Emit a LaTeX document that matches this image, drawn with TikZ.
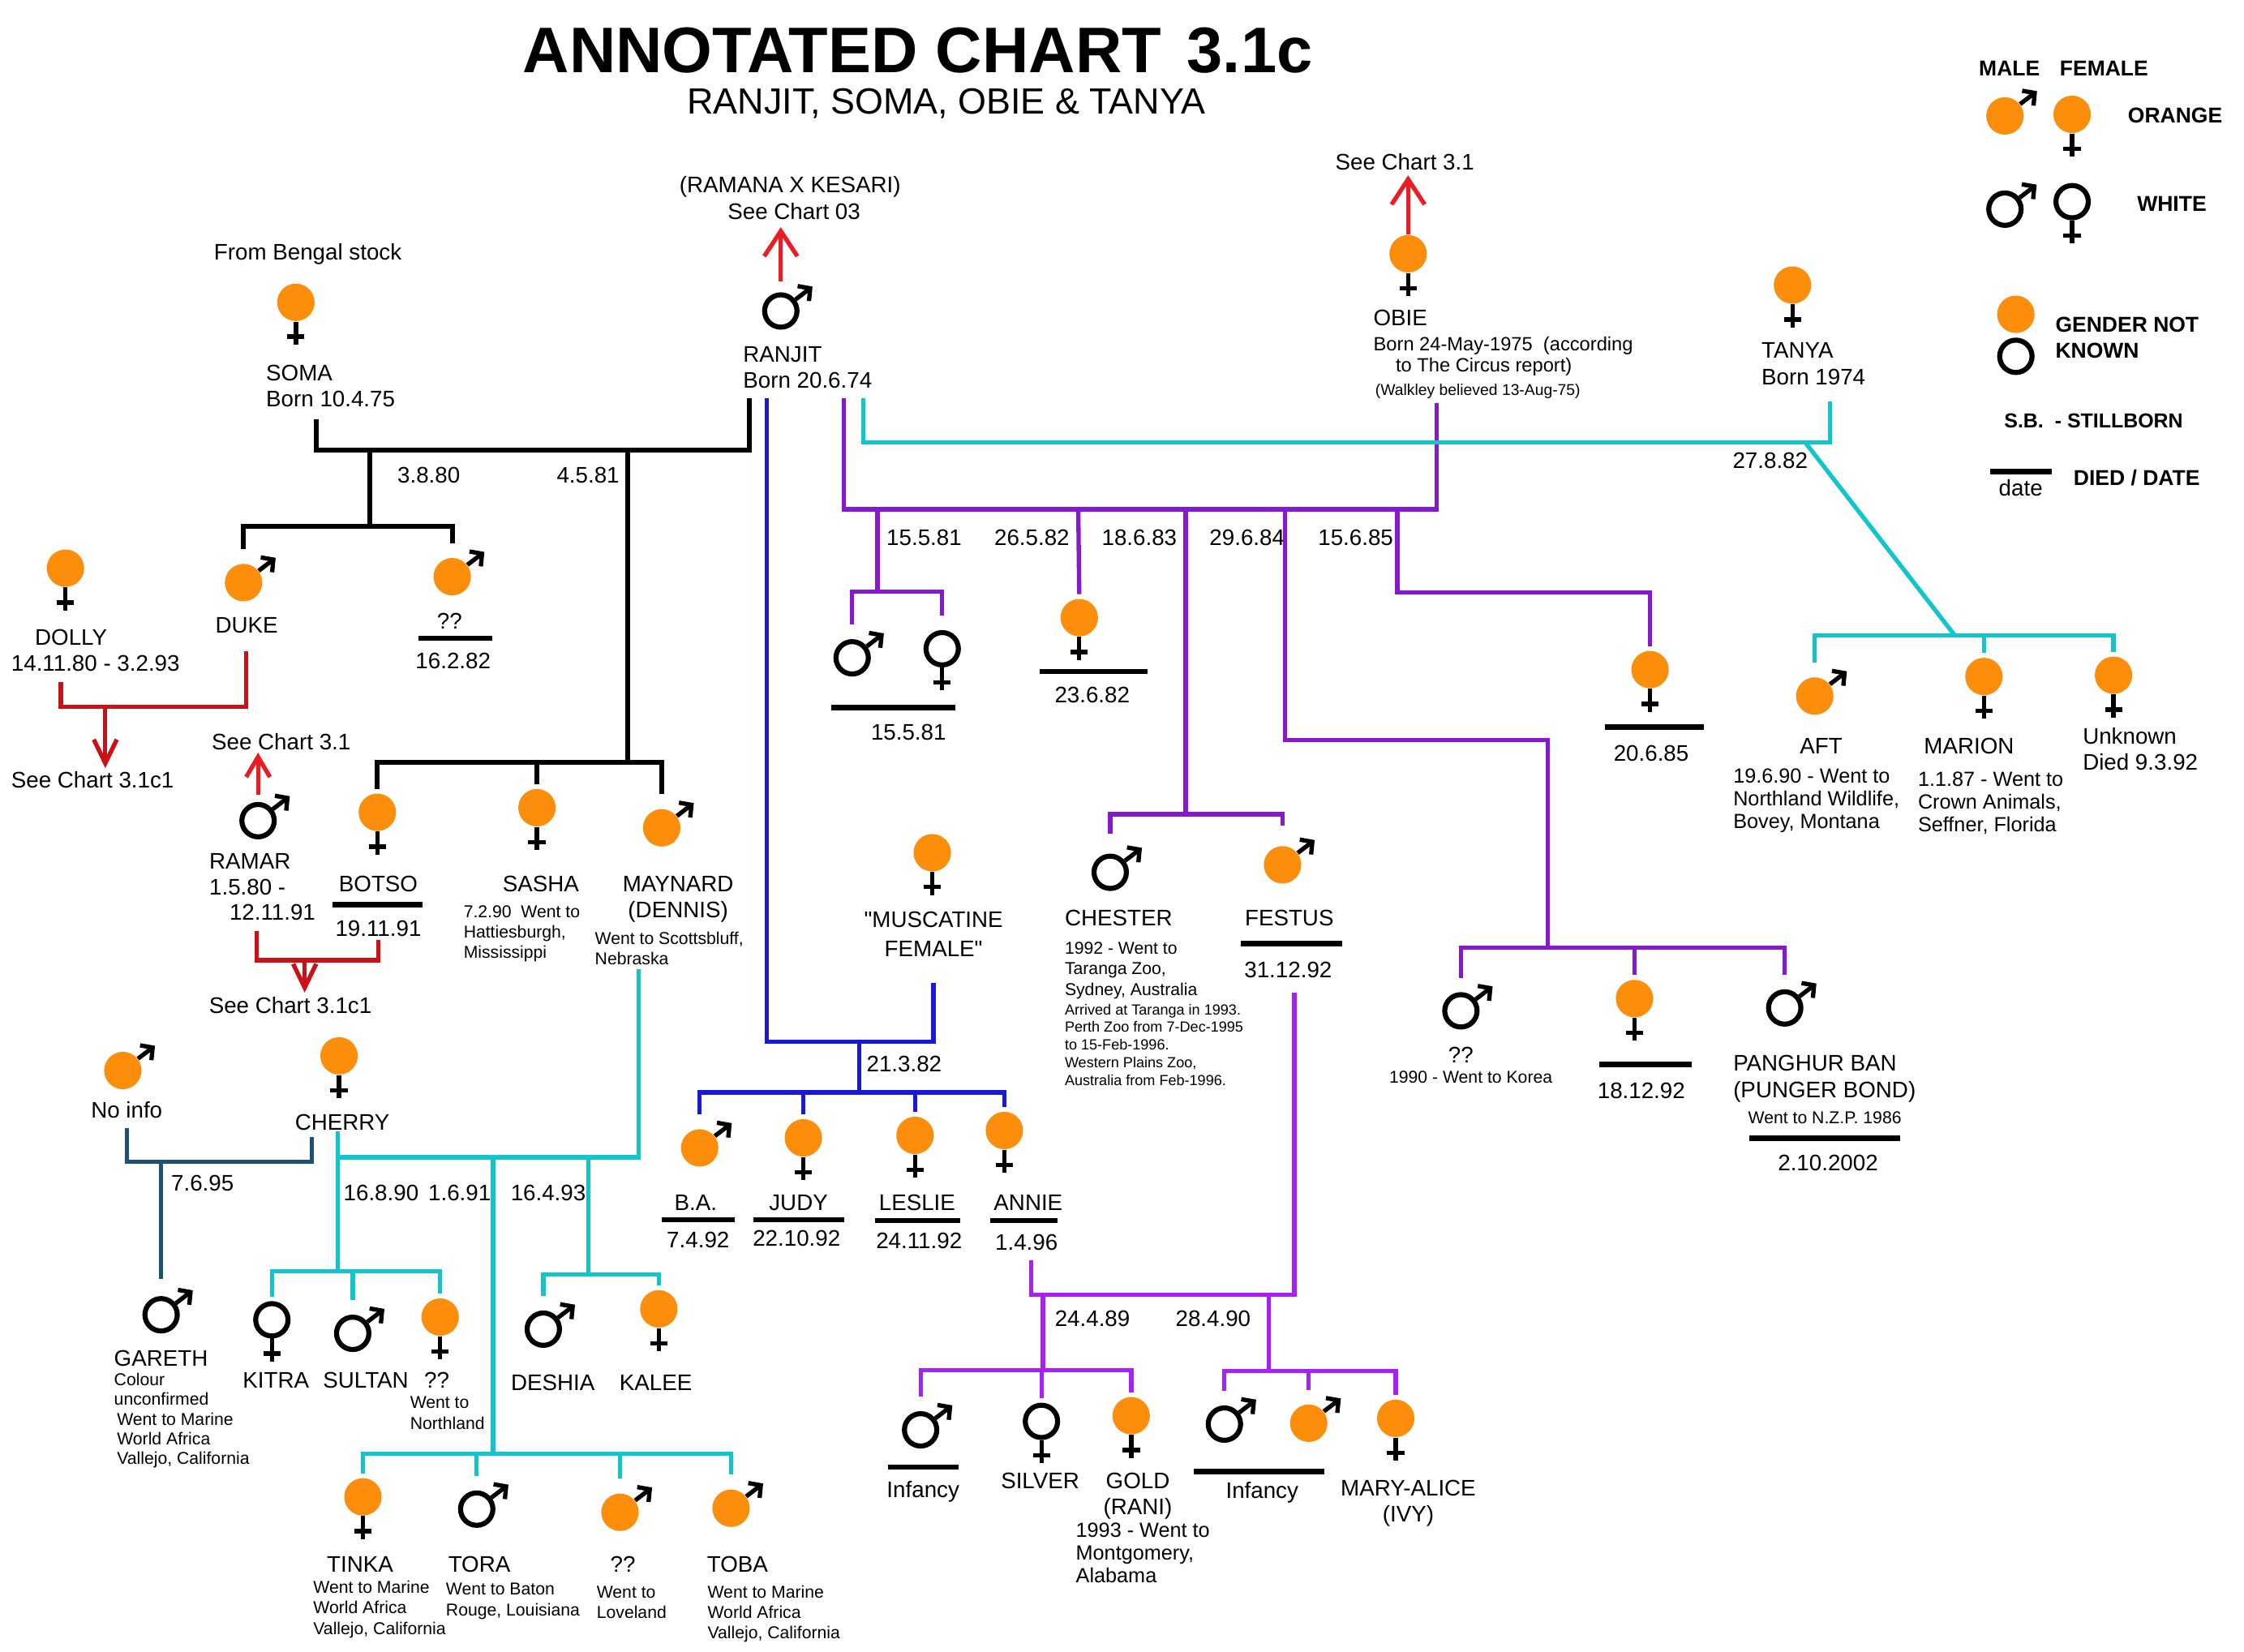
\documentclass[tikz,border=0pt]{standalone}
\usepackage{fontspec}
\setmainfont{Liberation Sans}[Ligatures=TeXOff]
\usepackage{tikz}
\usetikzlibrary{arrows.meta,calc}
\usepackage{xcolor}
\definecolor{dforange}{RGB}{252,142,12}
\definecolor{dfred}{RGB}{236,28,36}
\definecolor{dfdarkred}{RGB}{204,16,22}
\definecolor{dfblue}{RGB}{24,24,214}
\definecolor{dfpurple}{RGB}{136,24,206}
\definecolor{dfviolet}{RGB}{168,32,246}
\definecolor{dfcyan}{RGB}{16,198,204}
\definecolor{dfteal}{RGB}{28,82,112}
% text
\tikzstyle{txt} = [inner sep=0pt, font=\fontsize{8.9}{10.4}\selectfont]
\tikzstyle{smallnote} = [inner sep=0pt, align=left, font=\fontsize{6.8}{8.1}\selectfont]
\tikzstyle{midnote} = [inner sep=0pt, align=left, font=\fontsize{8.1}{9}\selectfont]
\tikzstyle{tinynote} = [inner sep=0pt, align=left, font=\fontsize{5.8}{7}\selectfont]
\tikzstyle{keytxt} = [inner sep=0pt, font=\bfseries\fontsize{8.5}{10.35}\selectfont]
% symbols
\tikzstyle{ocirc} = [circle, fill=dforange, minimum size=5.2mm, inner sep=0pt]
\tikzstyle{wcirc} = [circle, draw=black, line width=0.7mm, fill=white, minimum size=4.5mm, inner sep=0pt]
\tikzstyle{symline} = [line width=0.6mm, black]
\tikzstyle{marrow} = [symline, -{Straight Barb[length=1.2mm,width=2.6mm]}]
\tikzstyle{deathbar} = [line width=0.75mm, black]
% lines
\tikzstyle{blackline} = [line width=0.7mm, black]
\tikzstyle{blueline} = [line width=0.6mm, dfblue]
\tikzstyle{purpleline} = [line width=0.6mm, dfpurple]
\tikzstyle{violetline} = [line width=0.6mm, dfviolet]
\tikzstyle{cyanline} = [line width=0.6mm, dfcyan]
\tikzstyle{tealline} = [line width=0.6mm, dfteal]
\tikzstyle{redline} = [line width=0.6mm, dfdarkred]
\tikzstyle{redup} = [line width=0.6mm, dfred, -{Straight Barb[length=3.5mm,width=4.6mm]}]
\tikzstyle{reddown} = [line width=0.6mm, dfdarkred, -{Straight Barb[length=3.3mm,width=3.2mm]}]
\tikzstyle{tofem} = [shorten >=0.6mm]
\tikzstyle{tomale} = [shorten >=2mm]

\begin{document}
\begin{tikzpicture}[x=0.2mm,y=-0.2mm]
\useasboundingbox (0,0) rectangle (1560,1148.4);
% Title
\node[anchor=base, inner sep=0pt, font=\bfseries\fontsize{25.5}{30}\selectfont] (title) at (638,50.4) {ANNOTATED CHART\hspace{0.4em}3.1c};
\node[anchor=base, inner sep=0pt, font=\fontsize{14.4}{17}\selectfont] (subtitle) at (658,79) {RANJIT, SOMA, OBIE \& TANYA};

% Legend
\node[keytxt, anchor=base west] (keymale) at (1375.4,52.8) {MALE};
\node[keytxt, anchor=base west] (keyfemale) at (1431.6,52.8) {FEMALE};
\node[ocirc] (keyom) at (1393.8,80.6) {};
\node[ocirc] (keyof) at (1440.5,79.5) {};
\node[keytxt, anchor=base west] (keyorange) at (1479,85.3) {ORANGE};
\node[wcirc] (keywm) at (1393.8,145.4) {};
\node[wcirc] (keywf) at (1440.5,140.2) {};
\node[keytxt, anchor=base west] (keywhite) at (1485.4,146.8) {WHITE};
\node[ocirc] (keyo) at (1401.4,218.5) {};
\node[wcirc] (keyw) at (1401.4,247.7) {};
\node[keytxt, anchor=north west, align=left] (keyunk) at (1428.6,220.1) {GENDER NOT\\KNOWN};
\node[keytxt, anchor=base west, font=\bfseries\fontsize{8}{10}\selectfont] (keysb) at (1393,297.5) {S.B.\ \ - STILLBORN};
\draw[deathbar] (1383.8,327.8) -- (1426.6,327.8);
\node[txt, anchor=base] (keydate) at (1404.8,344.5) {date};
\node[keytxt, anchor=base west] (keydied) at (1441.2,337.2) {DIED / DATE};

% Parents
\node[txt, anchor=base] (bengal) at (214,180.6) {From Bengal stock};
\node[ocirc] (soma) at (205.7,210.2) {};
\node[txt, anchor=north west, align=left] (somatxt) at (184.7,253.4) {SOMA\\Born 10.4.75};
\node[txt, anchor=base] (ramana) at (549.3,134.1) {(RAMANA X KESARI)};
\node[txt, anchor=base] (see03) at (552,152.4) {See Chart 03};
\node[wcirc] (ranjit) at (542.8,216.2) {};
\node[txt, anchor=north west, align=left] (ranjittxt) at (516.3,240.5) {RANJIT\\Born 20.6.74};
\node[txt, anchor=base west] (see31a) at (928,117.9) {See Chart 3.1};
\node[ocirc] (obie) at (978.9,176.4) {};
\node[txt, anchor=base west] (obietxt) at (954.5,226.5) {OBIE};
\node[smallnote, font=\fontsize{7.6}{8.6}\selectfont, anchor=north west] (obienote) at (954.5,233.6) {Born 24-May-1975\ \ (according\\\hspace{3.1mm}to The Circus report)};
\node[tinynote, font=\fontsize{6.2}{7.4}\selectfont, anchor=base west] (walkley) at (955.8,275) {(Walkley believed 13-Aug-75)};
\node[ocirc] (tanya) at (1246.1,198.2) {};
\node[txt, anchor=north west, align=left] (tanyatxt) at (1224.3,237.9) {TANYA\\Born 1974};

% Soma x Ranjit
\node[txt, anchor=base west] (d3880) at (276,335.7) {3.8.80};
\node[txt, anchor=base west] (d4581) at (386.7,335.7) {4.5.81};
\node[ocirc] (dolly) at (45.5,395) {};
\node[txt, anchor=base] (dollytxt) at (49.4,448.7) {DOLLY};
\node[txt, anchor=base] (dollydate) at (66.4,466.7) {14.11.80 - 3.2.93};
\node[ocirc] (duke) at (169.3,405) {};
\node[txt, anchor=base] (duketxt) at (171.5,439.8) {DUKE};
\node[ocirc] (qqa) at (314.4,400.9) {};
\node[txt, anchor=base] (qqatxt) at (312.5,437.3) {??};
\draw[deathbar] (290.7,443.7) -- (342,443.7);
\node[txt, anchor=base] (qqadate) at (315,465) {16.2.82};
\node[txt, anchor=base west] (see31c1a) at (7.5,547.7) {See Chart 3.1c1};
\node[txt, anchor=base west] (see31b) at (146.9,521.2) {See Chart 3.1};
\node[wcirc] (ramar) at (179.4,570.5) {};
\node[txt, anchor=north west, align=left, font=\fontsize{8.9}{10.2}\selectfont] (ramartxt) at (145.2,592.9) {RAMAR\\1.5.80 -\\\hspace{2.8mm}12.11.91};
\node[ocirc] (botso) at (262.3,564.7) {};
\node[txt, anchor=base] (botsotxt) at (263,620) {BOTSO};
\draw[deathbar] (231,628.8) -- (293.7,628.8);
\node[txt, anchor=base] (botsodate) at (263,650.7) {19.11.91};
\node[txt, anchor=base west] (see31c1b) at (145,704.7) {See Chart 3.1c1};
\node[ocirc] (sasha) at (373.3,561.5) {};
\node[txt, anchor=base] (sashatxt) at (376,620) {SASHA};
\node[smallnote, anchor=north west] (sashanote) at (322,629) {7.2.90\ \ Went to\\Hattiesburgh,\\Mississippi};
\node[ocirc] (maynard) at (460,575.5) {};
\node[txt, anchor=north, align=center] (maynardtxt) at (471.4,608.7) {MAYNARD\\(DENNIS)};
\node[smallnote, anchor=north west] (maynardnote) at (413.3,647.5) {Went to Scottsbluff,\\Nebraska};

% Maynard x Cherry, No info x Cherry
\node[ocirc] (noinfo) at (85.4,744.2) {};
\node[txt, anchor=base] (noinfotxt) at (88.1,777) {No info};
\node[ocirc] (cherry) at (235.7,734) {};
\node[txt, anchor=base] (cherrytxt) at (238,785.5) {CHERRY};
\node[txt, anchor=base west] (d7695) at (118.7,827.9) {7.6.95};
\node[txt, anchor=base west] (d16890) at (238.5,834.9) {16.8.90};
\node[txt, anchor=base west] (d1691) at (297.4,834.9) {1.6.91};
\node[txt, anchor=base west] (d16493) at (354.7,834.9) {16.4.93};
\node[wcirc] (gareth) at (112,914) {};
\node[txt, anchor=base west] (garethtxt) at (79,949.6) {GARETH};
\node[smallnote, font=\fontsize{6.8}{7.8}\selectfont, anchor=north west] (garethnote) at (79,954.2) {Colour\\unconfirmed\\\hspace{0.4mm}Went to Marine\\\hspace{0.4mm}World Africa\\\hspace{0.4mm}Vallejo, California};
\node[wcirc] (kitra) at (189,917.5) {};
\node[txt, anchor=base] (kitratxt) at (191.8,965.1) {KITRA};
\node[wcirc] (sultan) at (245.2,926.9) {};
\node[txt, anchor=base] (sultantxt) at (254.3,965.1) {SULTAN};
\node[ocirc] (qqn) at (306,915.6) {};
\node[txt, anchor=base west] (qqntxt) at (294.6,965.1) {??};
\node[smallnote, anchor=north west] (qqnnote) at (284.8,970.7) {Went to\\Northland};
\node[ocirc] (tinka) at (252.3,1040.6) {};
\node[txt, anchor=base] (tinkatxt) at (250.3,1093) {TINKA};
\node[smallnote, anchor=north west] (tinkanote) at (217.5,1098.6) {Went to Marine\\World Africa\\Vallejo, California};
\node[wcirc] (tora) at (331.4,1049.1) {};
\node[txt, anchor=base west] (toratxt) at (311.3,1093) {TORA};
\node[smallnote, anchor=north west] (toranote) at (309.7,1100.3) {Went to Baton\\Rouge, Louisiana};
\node[ocirc] (qql) at (431,1051.3) {};
\node[txt, anchor=base] (qqltxt) at (433,1093) {??};
\node[smallnote, anchor=north west] (qqlnote) at (414.5,1102.2) {Went to\\Loveland};
\node[ocirc] (toba) at (508.2,1048.5) {};
\node[txt, anchor=base west] (tobatxt) at (491.2,1093) {TOBA};
\node[smallnote, anchor=north west] (tobanote) at (491.6,1101.7) {Went to Marine\\World Africa\\Vallejo, California};
\node[wcirc] (deshia) at (377.7,924) {};
\node[txt, anchor=base] (deshiatxt) at (384.4,966.4) {DESHIA};
\node[ocirc] (kalee) at (458,909.9) {};
\node[txt, anchor=base] (kaleetxt) at (455.9,966.4) {KALEE};

% Ranjit x Muscatine
\node[ocirc] (muscat) at (648.1,592.8) {};
\node[txt, anchor=north, align=center, font=\fontsize{8.9}{11.7}\selectfont] (muscattxt) at (649,633.3) {"MUSCATINE\\FEMALE"};
\node[txt, anchor=base west] (d21382) at (602.1,744.9) {21.3.82};
\node[ocirc] (ba) at (486.4,798) {};
\node[txt, anchor=base] (batxt) at (483.7,841.2) {B.A.};
\draw[deathbar] (460,848) -- (511,848);
\node[txt, anchor=base] (badate) at (485.3,867.5) {7.4.92};
\node[ocirc] (judy) at (558.5,791) {};
\node[txt, anchor=base] (judytxt) at (555.1,841.2) {JUDY};
\draw[deathbar] (524,848) -- (587,848);
\node[txt, anchor=base] (judydate) at (553.8,866.1) {22.10.92};
\node[ocirc] (leslie) at (636.1,789.3) {};
\node[txt, anchor=base] (leslietxt) at (637.6,841.4) {LESLIE};
\draw[deathbar] (608.4,848.5) -- (667.4,848.5);
\node[txt, anchor=base] (lesliedate) at (638.9,867.7) {24.11.92};
\node[ocirc] (annie) at (698.2,785.9) {};
\node[txt, anchor=base] (annietxt) at (714.8,841.4) {ANNIE};
\draw[deathbar] (688.3,848.5) -- (735,848.5);
\node[txt, anchor=base] (anniedate) at (713.6,869) {1.4.96};

% Ranjit x Obie
\node[txt, anchor=base west] (d15581) at (616,379) {15.5.81};
\node[txt, anchor=base west] (d26582) at (690.9,379) {26.5.82};
\node[txt, anchor=base west] (d18683) at (765.6,379) {18.6.83};
\node[txt, anchor=base west] (d29684) at (840.5,379) {29.6.84};
\node[txt, anchor=base west] (d15685) at (916,379) {15.6.85};
\node[wcirc] (sbm) at (592.4,457.3) {};
\node[wcirc] (sbf) at (655,451) {};
\draw[deathbar] (577.7,491.8) -- (664.3,491.8);
\node[txt, anchor=base] (sbdate) at (631.6,514.2) {15.5.81};
\node[ocirc] (f82) at (750.3,429.4) {};
\draw[deathbar] (722.6,466.8) -- (798,466.8);
\node[txt, anchor=base] (f82date) at (759.3,488.4) {23.6.82};
\node[wcirc] (chester) at (771.8,606.4) {};
\node[txt, anchor=base west] (chestertxt) at (739.9,643.7) {CHESTER};
\node[smallnote, anchor=north west] (chesternote) at (739.9,654.7) {1992 - Went to\\Taranga Zoo,\\Sydney, Australia};
\node[tinynote, anchor=north west] (chestermore) at (739.9,697.6) {Arrived at Taranga in 1993.\\Perth Zoo from 7-Dec-1995\\to 15-Feb-1996.\\Western Plains Zoo,\\Australia from Feb-1996.};
\node[ocirc] (festus) at (891.6,601.2) {};
\node[txt, anchor=base] (festustxt) at (896.3,643.7) {FESTUS};
\draw[deathbar] (862.8,655.9) -- (933,655.9);
\node[txt, anchor=base] (festusdate) at (895.5,679.7) {31.12.92};
\node[wcirc] (korea) at (1015.6,702.7) {};
\node[txt, anchor=base] (koreatxt) at (1015.6,739.1) {??};
\node[smallnote, anchor=base] (koreanote) at (1022.5,753) {1990 - Went to Korea};
\node[ocirc] (f92) at (1136.3,694.2) {};
\draw[deathbar] (1111.8,739.8) -- (1176,739.8);
\node[txt, anchor=base] (f92date) at (1141,763.6) {18.12.92};
\node[wcirc] (panghur) at (1240.7,700.7) {};
\node[txt, anchor=north west, align=left] (panghurtxt) at (1204.6,733.3) {PANGHUR BAN\\(PUNGER BOND)};
\node[smallnote, anchor=base] (panghurnote) at (1268.6,781.1) {Went to N.Z.P. 1986};
\draw[deathbar] (1216.2,791.3) -- (1321.1,791.3);
\node[txt, anchor=base] (panghurdate) at (1270.8,813.7) {2.10.2002};
\node[ocirc] (f85) at (1147.1,465.5) {};
\draw[deathbar] (1115.8,505.3) -- (1184.6,505.3);
\node[txt, anchor=base] (f85date) at (1147.9,529) {20.6.85};

% Festus x Annie
\node[txt, anchor=base west] (d24489) at (733,922.2) {24.4.89};
\node[txt, anchor=base west] (d28490) at (816.9,922.2) {28.4.90};
\node[wcirc] (inf1) at (640,994) {};
\draw[deathbar] (617.1,1019.9) -- (666.6,1019.9);
\node[txt, anchor=base] (inf1txt) at (641.7,1041) {Infancy};
\node[wcirc] (silver) at (724,988.1) {};
\node[txt, anchor=base] (silvertxt) at (723.1,1034.6) {SILVER};
\node[ocirc] (gold) at (786.4,984.2) {};
\node[txt, anchor=north, align=center] (goldtxt) at (791,1023.4) {GOLD\\(RANI)};
\node[midnote, anchor=north west] (goldnote) at (747.6,1058.5) {1993 - Went to\\Montgomery,\\Alabama};
\node[wcirc] (inf2) at (851.2,990) {};
\node[ocirc] (om90) at (909.8,989.4) {};
\node[ocirc] (maryal) at (970.3,986) {};
\draw[deathbar] (829.9,1023) -- (920.9,1023);
\node[txt, anchor=base] (inf2txt) at (877.4,1041.5) {Infancy};
\node[txt, anchor=north, align=center] (maryaltxt) at (979,1028.6) {MARY-ALICE\\(IVY)};

% Ranjit x Tanya
\node[txt, anchor=base west] (d27882) at (1204.2,325.8) {27.8.82};
\node[ocirc] (aft) at (1261.6,483.9) {};
\node[txt, anchor=base] (afttxt) at (1266,524.1) {AFT};
\node[midnote, anchor=north west] (aftnote) at (1204.6,533.9) {19.6.90 - Went to\\Northland Wildlife,\\Bovey, Montana};
\node[ocirc] (marion) at (1379.2,470.3) {};
\node[txt, anchor=base] (mariontxt) at (1368.8,524.1) {MARION};
\node[midnote, anchor=north west] (marionnote) at (1333,536.1) {1.1.87 - Went to\\Crown Animals,\\Seffner, Florida};
\node[ocirc] (unknown) at (1469.3,469.4) {};
\node[txt, anchor=north west, align=left, font=\fontsize{8.9}{10.1}\selectfont] (unknowntxt) at (1447.6,505.8) {Unknown\\Died 9.3.92};

% Gender marks
\foreach \n in {ranjit,duke,qqa,ramar,maynard,noinfo,gareth,sultan,tora,qql,toba,deshia,ba,sbm,chester,festus,korea,panghur,inf1,inf2,om90,aft,keyom,keywm}
  \draw[marrow] (\n.38) -- ++(11.8,-9);
\foreach \n in {soma,obie,tanya,dolly,botso,sasha,cherry,kitra,qqn,tinka,kalee,muscat,judy,leslie,annie,sbf,f82,f92,f85,silver,gold,maryal,marion,unknown,keyof,keywf}
  \draw[symline] (\n.south) -- ++(0,16) (\n.south) ++(-6,10.5) -- ++(12,0);

% Chart links
\draw[redup] ([yshift=1.5mm]ranjit.north) -- ([yshift=-1mm]ranjit.north |- see03.south);
\draw[redup] (obie.north) -- ([yshift=-0.7mm]obie.north |- see31a.south);
\draw[redup, -{Straight Barb[length=2.8mm,width=3.3mm]}] ([yshift=1mm]ramar.north) -- ([yshift=-0.3mm]ramar.north |- see31b.south);
\coordinate (dollyred) at (42.3,474.4);
\coordinate (dukered) at (171.2,452.5);
\coordinate (dd) at (73.2,491.2);
\draw[redline] (dollyred) |- (dd) -| (dukered);
\draw[reddown, shorten >=0.4mm] (dd) -- (dd |- see31c1a.north);
\coordinate (ramarred) at (178.6,647);
\coordinate (botsored) at (263,653.5);
\coordinate (rb) at (211.8,667.6);
\draw[redline] (ramarred) |- (rb) -| (botsored);
\draw[reddown, shorten >=0.6mm] (rb) -- (rb |- see31c1b.north);

% Ranjit's lines
\coordinate (rjblack) at (521,277);
\coordinate (rjblue) at (533.2,277);
\coordinate (rjpurple) at (586.6,277);
\coordinate (rjcyan) at (600,277);
\coordinate (somaline) at (220,291.5);
\coordinate (obieline) at (998.6,280.4);
\coordinate (tanyaline) at (1272.2,279.3);
\coordinate (muscline) at (649,683.1);
\coordinate (sr) at (257,312.7);
\coordinate (sr2) at (436.2,312.7);
\coordinate (ro) at (610,354);
\coordinate (rtk) at (1255,307.6);
\coordinate (rm) at (597.4,724.3);
\draw[blackline] (rjblack) |- (sr) -| (somaline);
\draw[blueline] (rjblue) |- (rm) -| (muscline);
\draw[purpleline] (rjpurple) |- (ro) -| (obieline);
\draw[cyanline] (rjcyan) |- (rtk) -| (tanyaline);

% Soma's litters
\coordinate (k1) at (257,366);
\coordinate (k2) at (436.2,530);
\draw[blackline] (sr) -- (k1);
\draw[blackline, tomale] (k1) -| (duke.north);
\draw[blackline, tomale] (k1) -| (qqa.north);
\draw[blackline] (sr2) -- (k2);
\draw[blackline, tofem] (k2) -| (botso.north);
\draw[blackline, tofem] (k2) -| (sasha.north);
\draw[blackline, tomale] (k2) -| (maynard.north);

% Maynard x Cherry
\coordinate (maynline) at (444,674);
\coordinate (cherline) at (235,786.2);
\coordinate (mc) at (342.8,804.6);
\coordinate (mc1) at (235,883.8);
\coordinate (mc2) at (342.8,1010.4);
\coordinate (mc3) at (409.1,885.8);
\draw[cyanline] (maynline) |- (mc) -| (cherline);
\draw[cyanline] (cherline) -- (mc1);
\draw[cyanline, tofem] (mc1) -| (kitra.north);
\draw[cyanline, tomale] (mc1) -| (sultan.north);
\draw[cyanline, tofem] (mc1) -| (qqn.north);
\draw[cyanline] (mc) -- (mc2);
\draw[cyanline, tofem] (mc2) -| (tinka.north);
\draw[cyanline, tomale] (mc2) -| (tora.north);
\draw[cyanline, tomale] (mc2) -| (qql.north);
\draw[cyanline, tomale] (mc2) -| (toba.north);
\draw[cyanline] (mc3 |- mc) -- (mc3);
\draw[cyanline, tomale] (mc3) -| (deshia.north);
\draw[cyanline, tofem] (mc3) -| (kalee.north);

% No info x Cherry
\coordinate (noinfoline) at (88.1,784.5);
\coordinate (chertl) at (216.8,790.2);
\coordinate (nc) at (112,807.8);
\draw[tealline] (noinfoline) |- (nc) -| (chertl);
\draw[tealline, shorten >=2.4mm] (nc) -- (gareth.north);

% Muscatine's litter
\coordinate (rmk) at (597.4,759.4);
\draw[blueline] (rm) -- (rmk);
\draw[blueline, tomale] (rmk) -| (ba.north);
\draw[blueline, tofem] (rmk) -| (judy.north);
\draw[blueline, tofem] (rmk) -| (leslie.north);
\draw[blueline, tofem] (rmk) -| (annie.north);

% Obie's litters
\coordinate (ro1k) at (610,411.3);
\coordinate (ro2) at (749.6,354);
\coordinate (ro3) at (824.3,354);
\coordinate (ro3k) at (824.3,566);
\coordinate (ro4) at (893.4,354);
\coordinate (ro4b) at (893.4,514.4);
\coordinate (ro4k) at (1075.8,658.8);
\coordinate (ro5) at (971.4,354);
\coordinate (ro5k) at (971.4,412);
\draw[purpleline] (ro) -- (ro1k);
\draw[purpleline, tomale] (ro1k) -| (sbm.north);
\draw[purpleline, tomale] (ro1k) -| (sbf.north);
\draw[purpleline, tofem] (ro2) -- (f82.north);
\draw[purpleline] (ro3) -- (ro3k);
\draw[purpleline, shorten >=2.8mm] (ro3k) -| (chester.north);
\draw[purpleline, shorten >=2.8mm] (ro3k) -| (festus.north);
\draw[purpleline] (ro4) -- (ro4b) -| (ro4k);
\draw[purpleline, tomale] (ro4k) -| (korea.north);
\draw[purpleline, tofem] (ro4k) -| (f92.north);
\draw[purpleline, tomale] (ro4k) -| (panghur.north);
\draw[purpleline, tofem] (ro5) -- (ro5k) -| (f85.north);

% Festus x Annie
\coordinate (festline) at (899.8,690.1);
\coordinate (anniline) at (716.8,876);
\coordinate (fa1) at (725.1,900);
\coordinate (fa2) at (882.1,900);
\coordinate (fa1k) at (725.1,952.4);
\coordinate (fa2k) at (882.1,953);
\draw[violetline] (festline) |- (fa2) -- (fa1) -| (anniline);
\draw[violetline] (fa1) -- (fa1k);
\draw[violetline, tomale] (fa1k) -| (inf1.north);
\draw[violetline, tofem] (fa1k) -| (silver.north);
\draw[violetline, tofem] (fa1k) -| (gold.north);
\draw[violetline] (fa2) -- (fa2k);
\draw[violetline, tomale] (fa2k) -| (inf2.north);
\draw[violetline, tomale] (fa2k) -| (om90.north);
\draw[violetline, tofem] (fa2k) -| (maryal.north);

% Tanya's litter
\coordinate (tk) at (1359,441.8);
\draw[cyanline] (rtk) -- (tk);
\draw[cyanline, tomale] (tk) -| (aft.north);
\draw[cyanline, tofem] (tk) -| (marion.north);
\draw[cyanline, tofem] (tk) -| (unknown.north);
\end{tikzpicture}
\end{document}
